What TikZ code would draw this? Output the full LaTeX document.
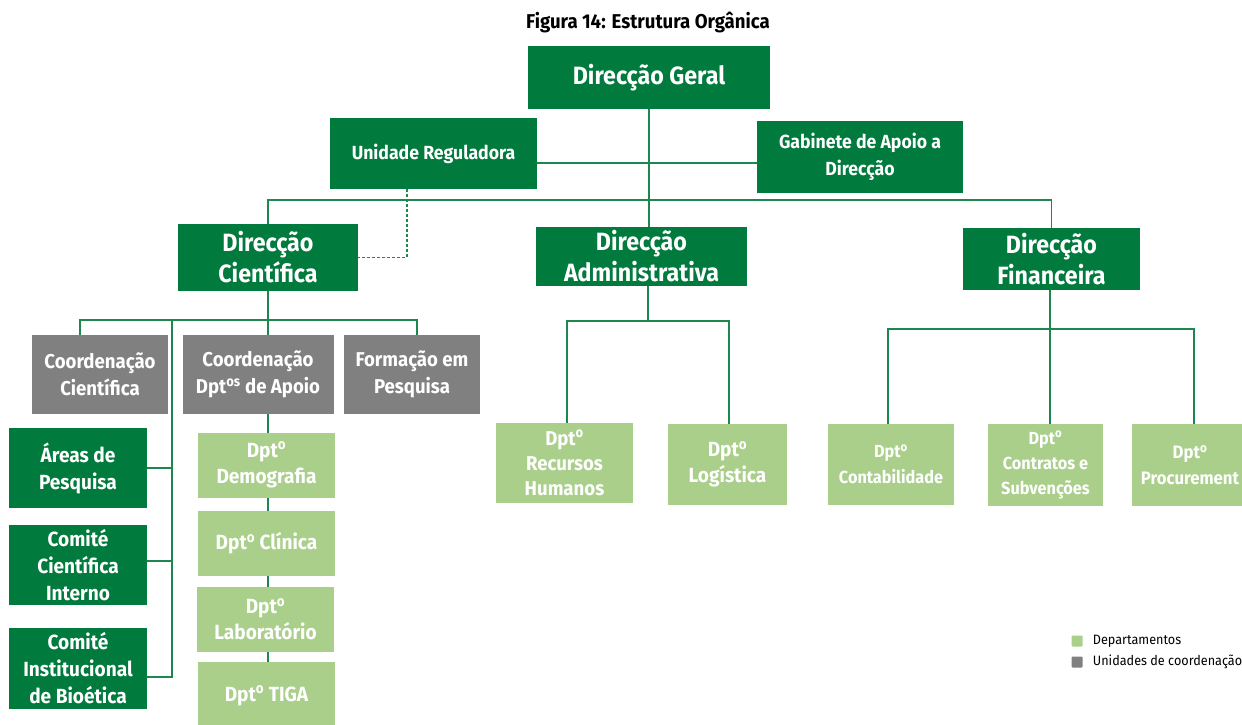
\documentclass[tikz,border=0pt]{standalone}
\usepackage{fontspec}
\setmainfont{Fira Sans}[FakeStretch=0.93]
\usetikzlibrary{positioning}
\usetikzlibrary{backgrounds}
\definecolor{dgreen}{RGB}{0,122,61}
\definecolor{cgrey}{RGB}{128,128,128}
\definecolor{lgreen}{RGB}{169,207,138}
\definecolor{lineg}{RGB}{30,135,80}
\newcommand{\fsz}[2]{\fontsize{#1}{#2}\selectfont}
\tikzset{
	wh/.style 2 args={minimum width=#1pt, minimum height=#2pt},
	dirbox/.style={rectangle, inner sep=0pt, fill=dgreen, text=white, align=center, font=\bfseries\fsz{25}{31}},
	unitbox/.style={rectangle, inner sep=0pt, fill=dgreen, text=white, align=center, font=\bfseries\fsz{20.5}{27}},
	coordbox/.style={rectangle, inner sep=0pt, fill=cgrey, text=white, align=center, font=\bfseries\fsz{20}{27}},
	dptbox/.style={rectangle, inner sep=0pt, fill=lgreen, text=white, align=center, font=\bfseries\fsz{20.5}{26}},
	% legend squares
	key/.style={rectangle, inner sep=0pt, minimum size=11pt, rounded corners=1pt},
	link/.style={draw=lineg, line width=1.4pt},
}
\newcommand{\dpt}{Dpt\textsuperscript{o}}

\begin{document}
\begin{tikzpicture}[x=1pt, y=-1pt]
	\useasboundingbox (0,0) rectangle (1242,724);
	
	\node (title) [font=\bfseries\fsz{20}{24}] at (648,22) {Figura 14: Estrutura Orgânica};
	
	% top level
	\node (dg) [dirbox, wh={242}{63}] at (649,77.5) {Direcção Geral};
	\node (ur) [unitbox, wh={207}{71}, font=\bfseries\fsz{19}{27}] at (433.5,153.5) {Unidade Reguladora};
	\node (ga) [unitbox, wh={206}{72}, font=\bfseries\fsz{19}{27}] at (860,157) {Gabinete de Apoio a\\Direcção};
	
	% direccoes
	\node (dc) [dirbox, wh={180}{67}] at (268,257.5) {Direcção\\Científica};
	\node (da) [dirbox, wh={211}{59}] at (641.5,256.5) {Direcção\\Administrativa};
	\node (df) [dirbox, wh={177}{62}] at (1051.5,259) {Direcção\\Financeira};
	
	% direccao cientifica
	\node (cc) [coordbox, wh={136}{79}] at (100,374.5) {Coordenação\\Científica};
	\node (cda) [coordbox, wh={151}{79}] at (258,374.5) {Coordenação\\Dpt\textsuperscript{os} de Apoio};
	\node (fp) [coordbox, wh={136}{79}] at (412,374.5) {Formação em\\Pesquisa};
	
	\node (ap) [unitbox, wh={138}{80}] at (78,468) {Áreas de\\Pesquisa};
	\node (cci) [unitbox, wh={138}{80}] at (78,565) {Comité\\Científica\\Interno};
	\node (cib) [unitbox, wh={138}{81}] at (78,668.5) {Comité\\Institucional\\de Bioética};
	
	\node (dem) [dptbox, wh={137}{65}] at (266.5,465) {\dpt\\Demografia};
	\node (cli) [dptbox, wh={137}{65}] at (266.5,543.5) {\dpt{} Clínica};
	\node (lab) [dptbox, wh={137}{65}] at (265.5,619) {\dpt\\Laboratório};
	\node (tiga) [dptbox, wh={137}{68}] at (266.5,696) {\dpt{} TIGA};
	
	% direccao administrativa
	\node (rh) [dptbox, wh={137}{80}, font=\bfseries\fsz{20}{25}] at (564.5,463) {\dpt\\Recursos\\Humanos};
	\node (log) [dptbox, wh={119}{81}] at (727.5,464.5) {\dpt\\Logística};
	
	% direccao financeira
	\node (cont) [dptbox, wh={126}{81}, font=\bfseries\fsz{17.5}{26}] at (891,464.5) {\dpt\\Contabilidade};
	\node (contr) [dptbox, wh={115}{82}, font=\bfseries\fsz{17.5}{25}] at (1045.5,465) {\dpt\\Contratos e\\Subvenções};
	\node (proc) [dptbox, wh={116}{82}, font=\bfseries\fsz{18}{26}] at (1190,465) {\dpt\\Procurement};
	
	% legend
	\node (kd) [key, fill=lgreen] at (1077,641) {};
	\node (kdt) [right=10pt of kd, inner sep=0pt, font=\fsz{13.6}{18}] {Departamentos};
	\node (ku) [key, fill=cgrey] at (1077,662) {};
	\node (kut) [right=10pt of ku, inner sep=0pt, font=\fsz{13.6}{18}] {Unidades de coordenação};
	
	\coordinate (bus) at (649,200);
	\coordinate (cbus) at (268,320);
	\coordinate (lbus) at (172,320);
	\coordinate (abus) at (648,321);
	\coordinate (fbus) at (1050,329);
	
	\begin{scope}[on background layer]
	\begin{scope}[link]
		\draw (dg.south) -- (dg.south |- da.north);
		\draw (ur.east |- 0,163) -- (ga.west |- 0,163);
		\draw (dc.north) |- (bus) -| (df.north);
		
		\draw (dc.south) -- (cda.north -| dc.south);
		\draw ([xshift=-20pt]cc.north) |- (cbus) -| ([xshift=5pt]fp.north);
		\draw (lbus) |- ([yshift=-8.5pt]cib.east);
		\draw (lbus |- ap.east) -- (ap.east);
		\draw (lbus |- 0,561) -- (cci.east |- 0,561);
		\draw (cda.south -| dc.south) -- (tiga.north -| dc.south);
		
		\draw (da.south -| abus) -- (abus);
		\draw ([xshift=2.5pt]rh.north) |- (abus) -| ([xshift=1.5pt]log.north);
		
		\draw (df.south -| fbus) -- (fbus);
		\draw ([xshift=-3pt]cont.north) |- (fbus) -| (proc.north -| 1194,0);
		\draw (fbus) -- (contr.north -| fbus);
		
		\draw [dashed, dash pattern=on 3pt off 2pt] (ur.south -| 407,0) |- (dc.east);
	\end{scope}
	\end{scope}
	
\end{tikzpicture}
\end{document}
